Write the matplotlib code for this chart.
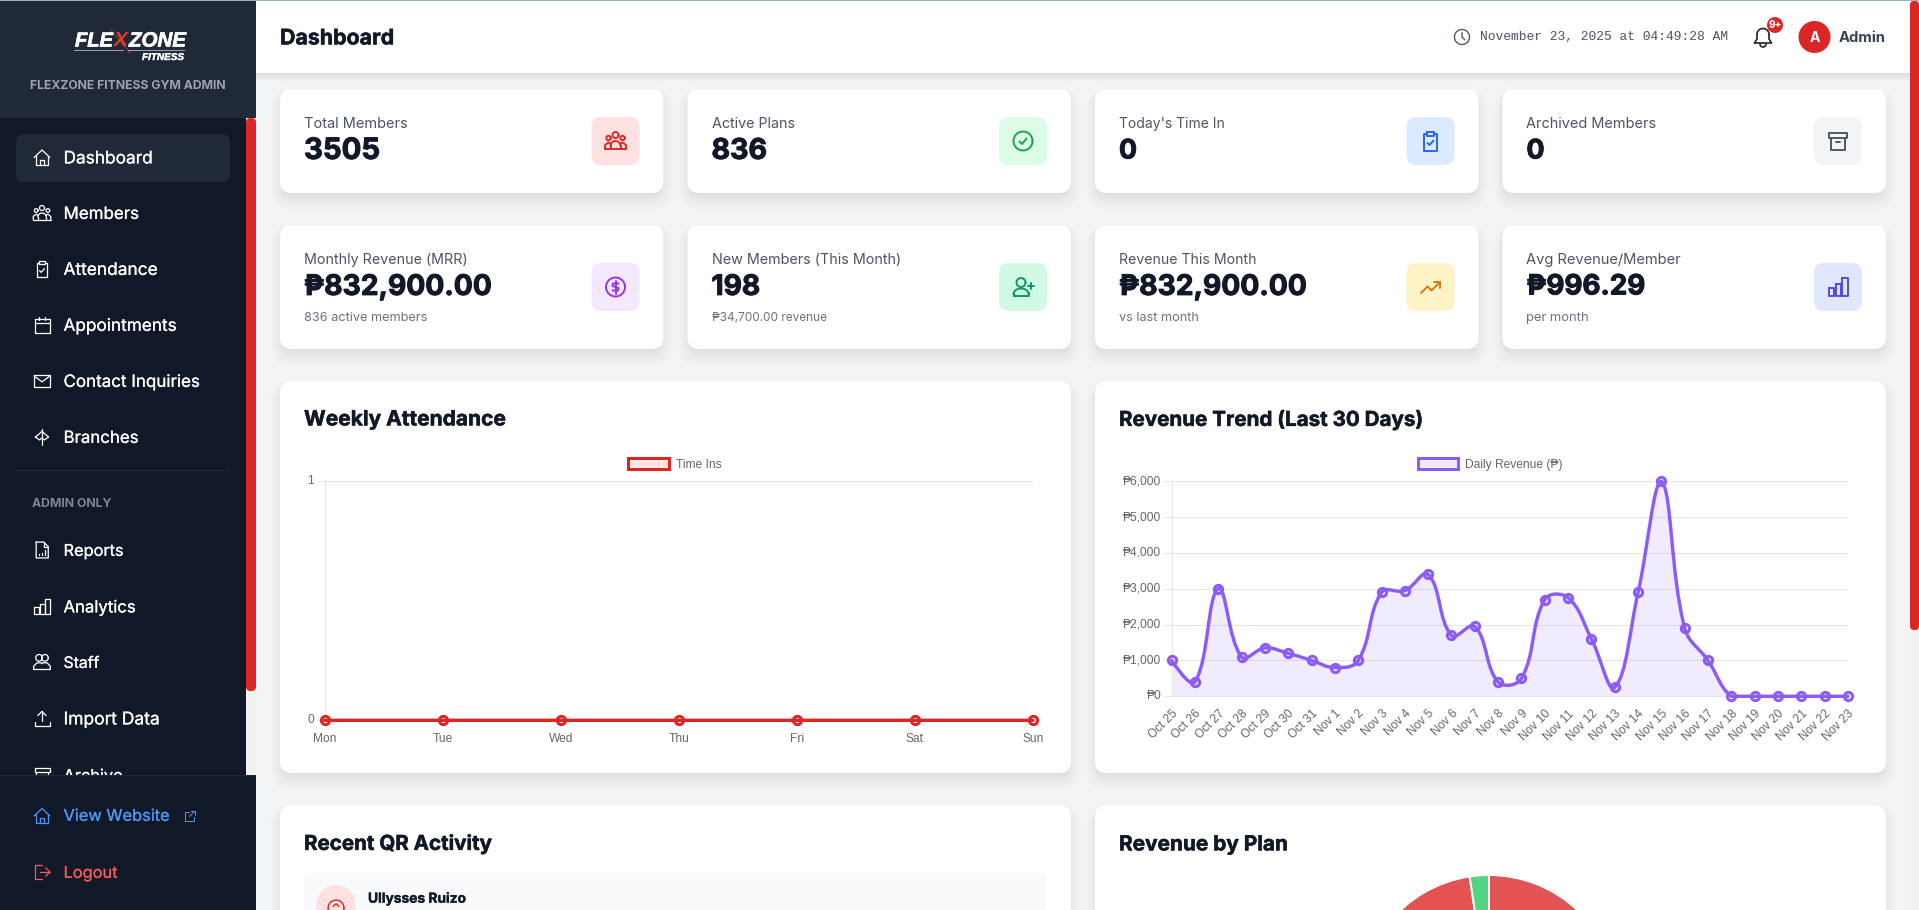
import numpy as np
import matplotlib
matplotlib.use("Agg")
import matplotlib.pyplot as plt
import matplotlib.patheffects as pe
from matplotlib.patches import FancyBboxPatch, Rectangle, Circle, Patch, PathPatch
from matplotlib.path import Path

# ---------- data ----------
week_days = ["Mon", "Tue", "Wed", "Thu", "Fri", "Sat", "Sun"]
time_ins = [0, 0, 0, 0, 0, 0, 0]
rev_days = ["Oct 25", "Oct 26", "Oct 27", "Oct 28", "Oct 29", "Oct 30", "Oct 31", "Nov 1", "Nov 2", "Nov 3",
            "Nov 4", "Nov 5", "Nov 6", "Nov 7", "Nov 8", "Nov 9", "Nov 10", "Nov 11", "Nov 12", "Nov 13",
            "Nov 14", "Nov 15", "Nov 16", "Nov 17", "Nov 18", "Nov 19", "Nov 20", "Nov 21", "Nov 22", "Nov 23"]
daily_revenue = [1000, 400, 3000, 1100, 1350, 1200, 1000, 800, 1000, 2900,
                 2950, 3400, 1700, 1950, 400, 500, 2700, 2750, 1600, 250,
                 2900, 6000, 1900, 1000, 0, 0, 0, 0, 0, 0]
rev_ticks = [0, 1000, 2000, 3000, 4000, 5000, 6000]
plan_shares = [97.6, 2.4]
plan_colors = ["#E35353", "#53D585"]

W, H = 1919, 910
DPI = 100
UI = ["Inter", "DejaVu Sans"]
CHART = ["Liberation Sans", "DejaVu Sans"]
INK = "#111827"

fig = plt.figure(figsize=(W / DPI, H / DPI), dpi=DPI, facecolor="#F3F4F6")
bg = fig.add_axes([0, 0, 1, 1], zorder=0)
bg.set_xlim(0, W)
bg.set_ylim(H, 0)
bg.axis("off")
rend = fig.canvas.get_renderer()
PT = 72 / DPI


def T(x, y, s, px=14, color=INK, weight="normal", w=None, ha="left", family=UI, z=5, heavy=0, dy=1.4, **kw):
    t = bg.text(x, y + dy, s, fontsize=px * PT, color=color, fontweight=weight, ha=ha, va="center",
                family=family, zorder=z, **kw)
    if w:
        cur = t.get_window_extent(rend).width
        t.set_fontsize(px * PT * w / cur)
    if heavy:
        t.set_path_effects([pe.withStroke(linewidth=heavy * PT, foreground=color)])
    return t


def rr(x, y, w, h, r, color, z=2, alpha=None):
    p = FancyBboxPatch((x, y), w, h, boxstyle=f"round,pad=0,rounding_size={r}", fc=color, ec="none",
                       alpha=alpha, zorder=z, mutation_aspect=1)
    bg.add_patch(p)
    return p


def rect(x, y, w, h, color, z=1, alpha=None):
    bg.add_patch(Rectangle((x, y), w, h, fc=color, ec="none", zorder=z, alpha=alpha))


def card(x, y, w, h, r=12):
    for s in range(-3, 11):
        rr(x - s, y + 8 - s, w + 2 * s, h + 2 * s, max(r + s, 1), "#000000", z=1.5, alpha=0.0035)
    for s in range(-2, 4):
        rr(x - s, y + 3 - s, w + 2 * s, h + 2 * s, max(r + s, 1), "#000000", z=1.5, alpha=0.004)
    rr(x, y, w, h, r, "#FFFFFF", z=2)


# ---------- icon primitives (24-unit box around a centre) ----------
class Ico:
    def __init__(self, cx, cy, size, color, lw=2.0, z=6):
        self.cx, self.cy, self.k, self.c, self.lw, self.z = cx, cy, size / 24, color, lw * PT * size / 24 * 0.95, z

    def P(self, x, y):
        return self.cx + (x - 12) * self.k, self.cy + (y - 12) * self.k

    def line(self, *pts, close=False):
        xy = [self.P(*p) for p in pts]
        if close:
            xy.append(xy[0])
        bg.plot(*zip(*xy), color=self.c, lw=self.lw, zorder=self.z, solid_capstyle="round",
                solid_joinstyle="round", clip_on=False)

    def arc(self, x, y, r, a0=0, a1=360, ry=None):
        ry = r if ry is None else ry
        a = np.radians(np.linspace(a0, a1, 40))
        self.line(*[(x + r * np.cos(t), y - ry * np.sin(t)) for t in a])

    def box(self, x0, y0, x1, y1):
        self.line((x0, y0), (x1, y0), (x1, y1), (x0, y1), close=True)


def icon(name, cx, cy, size, color, lw=2.0, z=6):
    i = Ico(cx, cy, size, color, lw, z)
    if name == "home":
        i.line((2.5, 12), (12, 3), (21.5, 12))
        i.line((5, 10), (5, 20.5), (19, 20.5), (19, 10))
        i.line((9.5, 20.5), (9.5, 14.5), (14.5, 14.5), (14.5, 20.5))
    elif name == "users":
        i.arc(12, 6, 3)
        i.arc(5, 9, 2.2)
        i.arc(19, 9, 2.2)
        i.arc(12, 17, 5, 0, 180, ry=5)
        i.line((1.5, 20), (22.5, 20))
        i.line((1.5, 20), (1.5, 16), (5, 13.5), (7.5, 15))
        i.line((22.5, 20), (22.5, 16), (19, 13.5), (16.5, 15))
        i.line((7, 17), (7, 20))
        i.line((17, 17), (17, 20))
    elif name == "clip":
        i.line((8.5, 4.5), (5.5, 4.5), (5.5, 21.5), (18.5, 21.5), (18.5, 4.5), (15.5, 4.5))
        i.box(8.5, 2.5, 15.5, 6.5)
        i.line((9, 14), (11, 16), (15, 11.5))
    elif name == "cal":
        i.box(3, 5, 21, 21)
        i.line((3, 10), (21, 10))
        i.line((8, 2.5), (8, 6.5))
        i.line((16, 2.5), (16, 6.5))
    elif name == "mail":
        i.box(2.5, 4.5, 21.5, 19.5)
        i.line((2.5, 6), (12, 13), (21.5, 6))
    elif name == "branch":
        i.line((12, 2.5), (12, 21.5))
        i.line((4, 12), (9, 8), (12, 5), (15, 8), (20, 12), (15, 15.5), (12, 13), (9, 15.5), (4, 12))
    elif name == "report":
        i.line((5, 2.5), (14, 2.5), (19.5, 8), (19.5, 21.5), (5, 21.5), close=True)
        i.line((14, 2.5), (14, 8), (19.5, 8))
        i.line((8.5, 18), (8.5, 17))
        i.line((12, 18), (12, 15))
        i.line((15.5, 18), (15.5, 12.5))
    elif name == "bars":
        i.box(2.5, 13, 8, 21)
        i.box(9.5, 8.5, 15, 21)
        i.box(16, 3, 21.5, 21)
    elif name == "staff":
        i.arc(8.5, 7, 4)
        i.arc(15.5, 7, 4)
        i.line((2, 21), (2, 17), (6, 13), (11, 13), (12, 14), (13, 13), (18, 13), (22, 17), (22, 21), close=True)
    elif name == "upload":
        i.line((3, 16), (3, 20.5), (21, 20.5), (21, 16))
        i.line((12, 3.5), (12, 15.5))
        i.line((7, 8.5), (12, 3.5), (17, 8.5))
    elif name == "archive":
        i.box(3, 3.5, 21, 8.5)
        i.line((5, 8.5), (5, 20.5), (19, 20.5), (19, 8.5))
        i.line((10, 12.5), (14, 12.5))
    elif name == "ext":
        i.line((11, 5), (4, 5), (4, 20), (19, 20), (19, 13))
        i.line((11, 13), (20, 4))
        i.line((14, 4), (20, 4), (20, 10))
    elif name == "logout":
        i.line((12, 3.5), (3.5, 3.5), (3.5, 20.5), (12, 20.5))
        i.line((9.5, 12), (21.5, 12))
        i.line((16.5, 7), (21.5, 12), (16.5, 17))
    elif name == "clock":
        i.arc(12, 12, 9.5)
        i.line((12, 6.5), (12, 12), (15.5, 15.5))
    elif name == "qr":
        i.arc(12, 12, 9.5)
        i.line((8.5, 10), (12, 7), (15.5, 10))
    elif name == "bell":
        i.line((3.5, 18), (6, 14), (6, 9.5))
        i.arc(12, 9.5, 6, 0, 180)
        i.line((18, 9.5), (18, 14), (20.5, 18), (3.5, 18))
        i.arc(12, 19, 3, 180, 360)
    elif name == "check":
        i.arc(12, 12, 9.5)
        i.line((8.5, 12.5), (11, 15), (15.5, 9.5))
    elif name == "dollar":
        i.arc(12, 12, 9.5)
        i.line((12, 5.5), (12, 18.5))
        i.line((15, 8.5), (9.5, 8.5), (9, 11), (15, 13), (14.5, 15.5), (9, 15.5))
    elif name == "adduser":
        i.arc(10, 7.5, 4.5)
        i.line((2.5, 21), (17.5, 21), (17.5, 18))
        i.arc(10, 19, 7.5, 0, 180, ry=5.5)
        i.line((2.5, 19), (2.5, 21))
        i.line((20, 8), (20, 14))
        i.line((17, 11), (23, 11))
    elif name == "trend":
        i.line((2.5, 18), (9, 11.5), (13, 15.5), (21.5, 7))
        i.line((15, 7), (21.5, 7), (21.5, 13))


# ---------- page chrome ----------
rect(256, 0, W - 256, 73, "#FFFFFF", z=2)
for s in range(1, 9):
    rect(256, 73, W - 256, s, "#000000", z=1.6, alpha=0.012)
rect(0, 0, 256, H, "#111827", z=3)
rect(0, 0, 256, 118, "#1F2937", z=3.1)
rect(246, 118, 10, 660, "#F1F1F1", z=3.1)
rr(246, 118, 10, 573, 4.5, "#DC2626", z=3.2)
rect(1910, 0, 9, H, "#F1F1F1", z=3)
rr(1910, 1, 9, 629, 4, "#DC2626", z=3.2)
rect(0, 0, W, 1, "#8DB8BC", z=4)

# logo
LOGO = ["Liberation Sans"]
T(75, 41, "FLE", 22, "#FFFFFF", "bold", w=38, family=LOGO, style="italic", heavy=0.7, dy=0)
T(114, 41, "X", 20, "#E23B2E", "bold", w=14, family=LOGO, style="italic", dy=0)
T(129, 41, "ZONE", 22, "#FFFFFF", "bold", w=57, family=LOGO, style="italic", heavy=0.7, dy=0)
bg.plot([111, 130], [30, 53], color="#A33328", lw=0.8, zorder=4)
rect(74, 50, 50, 1.4, "#9CA3AF", z=4)
rect(128, 50, 57, 1.4, "#9CA3AF", z=4)
T(142, 57, "FITNESS", 9, "#FFFFFF", "bold", w=42, family=LOGO, style="italic", heavy=0.4, dy=0)
T(30, 85, "FLEXZONE FITNESS GYM ADMIN", 12, "#9CA3AF", "bold", w=196)

# sidebar
nav_items = [("Dashboard", 157.5, "home", 89), ("Members", 213, "users", 75.5), ("Attendance", 269, "clip", 94),
             ("Appointments", 325, "cal", 113), ("Contact Inquiries", 381, "mail", 136),
             ("Branches", 437, "branch", 75), ("Reports", 550, "report", 60), ("Analytics", 606.5, "bars", 72),
             ("Staff", 662, "staff", 36), ("Import Data", 718.5, "upload", 96), ("Archive", 775, "archive", 59)]
rr(16, 134, 214, 48, 8, "#1F2937", z=3.3)
for label, y, ic, w in nav_items:
    T(63.5, y, label, 15, "#FFFFFF", w=w, z=3.5, heavy=0.2)
    icon(ic, 42, y, 20, "#FFFFFF", 1.6, z=3.5)
rect(16, 470, 214, 1, "#1F2937", z=3.4)
T(32, 503, "ADMIN ONLY", 11.5, "#7B8794", "bold", w=80, z=3.5)
rect(0, 775, 256, H - 775, "#111827", z=4)
rect(0, 775, 256, 1, "#1F2937", z=4.1)
T(63.5, 815, "View Website", 15, "#4F94F5", w=106, heavy=0.2)
icon("home", 42, 816, 20, "#4F94F5", 1.6)
icon("ext", 190, 816, 14, "#4F94F5", 1.8)
T(63.5, 872, "Logout", 15, "#F05A5A", w=54, heavy=0.2)
icon("logout", 42, 872, 20, "#F05A5A", 1.6)

# header
T(280, 37, "Dashboard", 20, INK, "bold", w=114, heavy=0.5)
icon("clock", 1462, 37, 19, "#4B5563", 1.8)
T(1480, 36.5, "November 23, 2025 at 04:49:28 AM", 12.8, "#4B5563", family=["Liberation Mono"], w=247, dy=0.5)
icon("bell", 1763, 37, 24, "#1F2937", 1.8)
bg.add_patch(Circle((1775, 25), 8, fc="#DC2626", ec="none", zorder=7))
T(1775, 25, "9+", 10, "#FFFFFF", "bold", ha="center", z=8, dy=0.5)
bg.add_patch(Circle((1814.5, 37), 16, fc="#DC2626", ec="none", zorder=7))
T(1814.5, 37, "A", 14, "#FFFFFF", "bold", ha="center", z=8, dy=0.5)
T(1839, 37, "Admin", 14, "#374151", "bold", w=47)

# stat cards
xs = [280, 687.5, 1095, 1502.5]
CW = 383.5
top_cards = [("Total Members", 104, "3505", 76, "users", "#FEE2E2", "#DC2626"),
             ("Active Plans", 83.5, "836", 55.5, "check", "#DCFCE7", "#16A34A"),
             ("Today's Time In", 106, "0", 18, "clip", "#DBEAFE", "#2563EB"),
             ("Archived Members", 130.5, "0", 18, "archive", "#F3F4F6", "#4B5563")]
bot_cards = [("Monthly Revenue (MRR)", 164, "₱832,900.00", 188, "836 active members", 124, "dollar", "#F3E8FF", "#9333EA"),
             ("New Members (This Month)", 190.5, "198", 48.5, "₱34,700.00 revenue", 115.5, "adduser", "#D1FAE5", "#059669"),
             ("Revenue This Month", 138, "₱832,900.00", 188, "vs last month", 80, "trend", "#FEF3C7", "#D97706"),
             ("Avg Revenue/Member", 155.5, "₱996.29", 119, "per month", 62.5, "bars", "#E0E7FF", "#4F46E5")]
for x, (lab, lw_, val, vw, ic, bc, ec) in zip(xs, top_cards):
    card(x, 89, CW, 104)
    T(x + 24, 123, lab, 14, "#4B5563", w=lw_)
    T(x + 24, 150, val, 30, INK, "bold", w=vw, heavy=1.0)
    rr(x + CW - 72, 117, 48, 48, 10, bc, z=3)
    icon(ic, x + CW - 48, 141, 24, ec, 2)
for x, (lab, lw_, val, vw, sub, sw, ic, bc, ec) in zip(xs, bot_cards):
    card(x, 225, CW, 124)
    T(x + 24, 259, lab, 14, "#4B5563", w=lw_)
    T(x + 24, 286, val, 30, INK, "bold", w=vw, heavy=1.0)
    T(x + 24, 316.5, sub, 12, "#6B7280", w=sw)
    rr(x + CW - 72, 263, 48, 48, 10, bc, z=3)
    icon(ic, x + CW - 48, 287, 24, ec, 2)

# panels
card(280, 381, 791, 392)
card(1095, 381, 791, 392)
card(280, 805, 791, 300)
card(1095, 805, 791, 300)
T(304, 418, "Weekly Attendance", 20, INK, "bold", w=202, heavy=0.5)
T(1119, 418, "Revenue Trend (Last 30 Days)", 20, INK, "bold", w=304, heavy=0.5)
T(304, 843, "Recent QR Activity", 20, INK, "bold", w=188, heavy=0.5)
T(1119, 843, "Revenue by Plan", 20, INK, "bold", w=169, heavy=0.5)

# recent activity row
rr(304, 873, 742.5, 120, 8, "#F9FAFB", z=3)
bg.add_patch(Circle((336, 905), 20, fc="#FEE2E2", ec="none", zorder=4))
icon("qr", 336, 908, 20, "#DC2626", 1.8)
T(368, 897, "Ullysses Ruizo", 14, INK, "bold", w=98, heavy=0.3)


# ---------- charts ----------
def px_axes(x0, ytop, x1, ybot, z=2):
    a = fig.add_axes([x0 / W, 1 - ybot / H, (x1 - x0) / W, (ybot - ytop) / H], zorder=z)
    a.patch.set_alpha(0)
    return a


def smooth_path(ax, x, y, tension=0.4):
    """Chart.js style bezier spline through the data, with capped control points."""
    x = np.asarray(x, float)
    y = np.asarray(y, float)
    pos = ax.transData.transform(np.c_[x, y])
    n = len(x)
    before = pos.copy()
    after = pos.copy()
    for i in range(1, n - 1):
        d01 = np.hypot(*(pos[i] - pos[i - 1]))
        d12 = np.hypot(*(pos[i + 1] - pos[i]))
        tot = d01 + d12
        if tot == 0:
            continue
        delta = pos[i + 1] - pos[i - 1]
        before[i] = pos[i] - delta * tension * d01 / tot
        after[i] = pos[i] + delta * tension * d12 / tot
    inv = ax.transData.inverted()
    before = inv.transform(before)
    after = inv.transform(after)
    ylo, yhi = ax.get_ylim()
    before[:, 1] = np.clip(before[:, 1], ylo, yhi)
    after[:, 1] = np.clip(after[:, 1], ylo, yhi)
    verts = [(x[0], y[0])]
    codes = [Path.MOVETO]
    for i in range(n - 1):
        verts += [tuple(after[i]), tuple(before[i + 1]), (x[i + 1], y[i + 1])]
        codes += [Path.CURVE4] * 3
    return verts, codes


def line_chart(ax, labels, values, yticks, color, fill_alpha, tick_fmt, legend_label, legend_xy, rot):
    x = np.arange(len(labels))
    ax.set_xlim(0, len(labels) - 1)
    ax.set_ylim(min(yticks), max(yticks))
    verts, codes = smooth_path(ax, x, values)
    ax.add_patch(PathPatch(Path(verts + [(x[-1], 0), (x[0], 0), (x[0], 0)],
                                codes + [Path.LINETO, Path.LINETO, Path.CLOSEPOLY]),
                           fc=color, alpha=fill_alpha, ec="none", zorder=2))
    ax.add_patch(PathPatch(Path(verts, codes), fc="none", ec=color, lw=3.4 * PT, zorder=3, clip_on=False,
                           capstyle="round"))
    ax.plot(x, values, ls="none", marker="o", ms=8.3 * PT, mew=3 * PT, mec=color, mfc="none", zorder=4, clip_on=False)
    ax.set_yticks(yticks)
    ax.set_yticklabels([tick_fmt(v) for v in yticks], family=CHART, fontsize=12 * PT, color="#666666",
                       va="center")
    ax.tick_params(axis="y", length=8 * PT, width=1 * PT, color="#E5E5E5", pad=2.5 * PT)
    for lab in ax.get_yticklabels():
        lab.set_y(lab.get_position()[1])
    ax.grid(axis="y", color="#E5E5E5", lw=1 * PT, zorder=1)
    ax.set_axisbelow(True)
    ax.set_xticks(x)
    for s in ["top", "right"]:
        ax.spines[s].set_visible(False)
    for s in ["left", "bottom"]:
        ax.spines[s].set_color("#E5E5E5")
        ax.spines[s].set_linewidth(1 * PT)
    if rot:
        ax.set_xticklabels(labels, family=CHART, fontsize=12 * PT, color="#666666", rotation=rot,
                           ha="right", va="top", rotation_mode="anchor")
        ax.tick_params(axis="x", length=0, pad=11.5 * PT)
    else:
        ax.set_xticklabels(labels, family=CHART, fontsize=12 * PT, color="#666666")
        ax.tick_params(axis="x", length=0, pad=13 * PT)
    h = Patch(fc=matplotlib.colors.to_rgba(color, 0.12), ec=color, lw=3 * PT, label=legend_label)
    ax.legend(handles=[h], loc="center", bbox_to_anchor=(legend_xy[0] / W, 1 - legend_xy[1] / H),
              bbox_transform=fig.transFigure, frameon=False, prop={"family": CHART, "size": 12 * PT},
              labelcolor="#666666", handlelength=3.4, handleheight=1.1, handletextpad=0.55,
              borderpad=0, borderaxespad=0)


ax1 = px_axes(324.6, 481.3, 1033, 720.3)
line_chart(ax1, week_days, time_ins, [0, 1], "#DC2626", 0.1, lambda v: f"{v}", "Time Ins", (675, 464.3), 0)

ax2 = px_axes(1171.6, 481.3, 1848, 696.3)
line_chart(ax2, rev_days, daily_revenue, rev_ticks, "#8B5CF6", 0.12, lambda v: f"₱{v:,}",
           "Daily Revenue (₱)", (1490, 464.3), 45)

# pie, mostly below the fold
R = 129
pcx, pcy = 1489, 1004
ax3 = fig.add_axes([(pcx - R) / W, 1 - (pcy + R) / H, 2 * R / W, 2 * R / H], zorder=2)
ax3.pie(plan_shares, colors=plan_colors, startangle=90, counterclock=False, radius=1,
        wedgeprops={"edgecolor": "#FFFFFF", "linewidth": 2 * PT})
ax3.set_xlim(-1, 1)
ax3.set_ylim(-1, 1)
ax3.set_aspect("auto")

fig.savefig("out.png", dpi=DPI, facecolor=fig.get_facecolor())
